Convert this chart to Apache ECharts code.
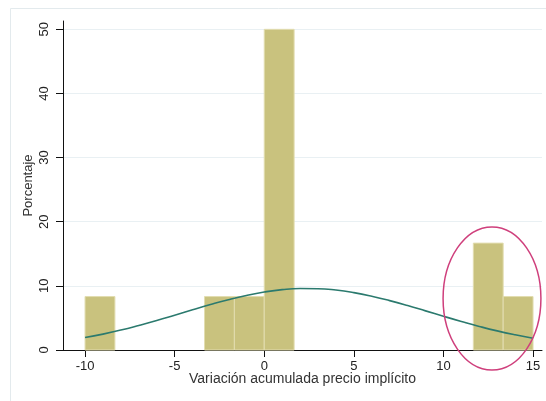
<!DOCTYPE html>
<html><head><meta charset="utf-8">
<script src="https://cdn.jsdelivr.net/npm/echarts@6/dist/echarts.min.js"></script>
<style>html,body{margin:0;padding:0;background:#fff}#c{width:546px;height:401px}</style>
</head><body><div id="c"></div>
<script>
// Histogram bins (start, end, percent)
const binStart = [-10, -3.333, -1.667, 0, 11.667, 13.333];
const binEnd   = [-8.333, -1.667, 0, 1.667, 13.333, 15];
const binPct   = [8.333, 8.333, 8.333, 50, 16.667, 8.333];
// Normal density overlay
const curveX = [-10,-9,-8,-7,-6,-5,-4,-3,-2,-1,0,1,2,3,4,5,6,7,8,9,10,11,12,13,14,15];
const curveY = [1.94,2.48,3.11,3.83,4.60,5.43,6.27,7.09,7.85,8.51,9.04,9.41,9.58,9.56,9.35,8.95,8.39,7.70,6.93,6.10,5.26,4.45,3.68,2.98,2.37,1.84];
// Tick labels
const xTicks = [-10, -5, 0, 5, 10, 15];
const yTicks = [0, 10, 20, 30, 40, 50];
// Highlight ellipse (data coords: centre x, centre y, radius x, radius y)
const ellipse = [[12.71, 8.03, 2.73, 11.15]];

const chart = echarts.init(document.getElementById('c'), null, {renderer: 'canvas'});
const font = 'Liberation Sans, Arial, sans-serif';
const barData = binStart.map((s, i) => [s, binEnd[i], binPct[i]]);
const lineData = curveX.map((x, i) => [x, curveY[i]]);

chart.setOption({
  animation: false,
  backgroundColor: '#fff',
  graphic: [{
    type: 'rect', left: 8, top: 6, silent: true, z: -10,
    shape: {x: 0.5, y: 0.5, width: 700, height: 600},
    style: {fill: 'none', stroke: '#e3eaed', lineWidth: 1}
  }],
  grid: {left: 63, right: 4, top: 21, bottom: 51, containLabel: false},
  xAxis: {
    type: 'value', min: -11.23, max: 15.5,
    name: 'Variación acumulada precio implícito', nameLocation: 'middle', nameGap: 22,
    nameMoveOverlap: false,
    nameTextStyle: {fontFamily: font, fontSize: 14, color: '#333'},
    axisLine: {show: true, onZero: false, lineStyle: {color: '#111', width: 1}},
    axisTick: {show: true, length: 7, customValues: xTicks, lineStyle: {color: '#111'}},
    axisLabel: {customValues: xTicks, margin: 10, fontFamily: font, fontSize: 13, color: '#222'},
    splitLine: {show: false}
  },
  yAxis: {
    type: 'value', min: 0, max: 51.3, interval: 10,
    name: 'Porcentaje', nameLocation: 'middle', nameGap: 28,
    nameMoveOverlap: false,
    nameTextStyle: {fontFamily: font, fontSize: 13, color: '#333'},
    axisLine: {show: true, onZero: false, lineStyle: {color: '#111', width: 1}},
    axisTick: {show: true, length: 7, customValues: yTicks, lineStyle: {color: '#111'}},
    axisLabel: {customValues: yTicks, rotate: 90, margin: 12, fontFamily: font, fontSize: 13, color: '#222'},
    splitLine: {show: true, lineStyle: {color: '#e9f0f3', width: 1}}
  },
  series: [
    {
      type: 'custom', data: barData, z: 2,
      renderItem: function (params, api) {
        const p0 = api.coord([api.value(0), 0]);
        const p1 = api.coord([api.value(1), api.value(2)]);
        return {
          type: 'rect',
          shape: {x: p0[0], y: p1[1], width: p1[0] - p0[0], height: p0[1] - p1[1]},
          style: {fill: '#c9c27e', stroke: '#e2ddb0', lineWidth: 1}
        };
      }
    },
    {
      type: 'line', data: lineData, smooth: true, showSymbol: false, symbol: 'none', z: 3,
      lineStyle: {color: '#2b7a6e', width: 1.6}
    },
    {
      type: 'custom', data: ellipse, z: 4, clip: false,
      renderItem: function (params, api) {
        const c = api.coord([api.value(0), api.value(1)]);
        const e = api.coord([api.value(0) + api.value(2), api.value(1) + api.value(3)]);
        const rx = e[0] - c[0], ry = c[1] - e[1];
        const d = 'M' + (c[0] - rx) + ' ' + c[1] +
          ' A' + rx + ' ' + ry + ' 0 1 0 ' + (c[0] + rx) + ' ' + c[1] +
          ' A' + rx + ' ' + ry + ' 0 1 0 ' + (c[0] - rx) + ' ' + c[1] + ' Z';
        return {
          type: 'path',
          shape: {pathData: d},
          style: {fill: 'none', stroke: '#cf3f7c', lineWidth: 1.5}
        };
      }
    }
  ]
});
</script></body></html>
